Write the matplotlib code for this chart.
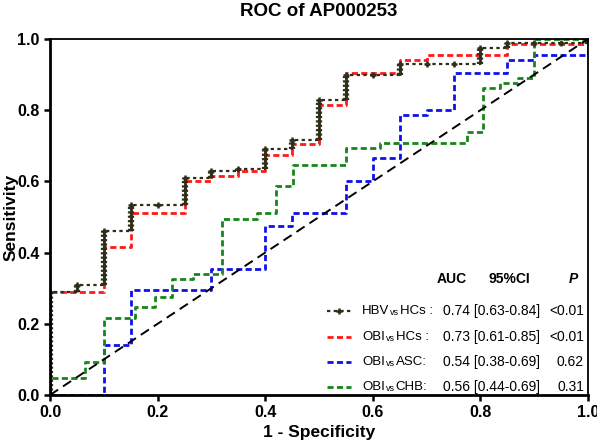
import matplotlib
matplotlib.use("Agg")
import matplotlib.pyplot as plt

plt.rcParams['font.family'] = ['Liberation Sans', 'DejaVu Sans']

# ROC step points: (1 - specificity, sensitivity)
hbv_fpr = [0, 0, 0.05, 0.10, 0.15, 0.20, 0.25, 0.30, 0.35, 0.40, 0.45, 0.50,
           0.55, 0.60, 0.65, 0.70, 0.75, 0.80, 0.85, 0.90, 0.95, 1.0]
hbv_tpr = [0, 0.29, 0.31, 0.46, 0.535, 0.535, 0.61, 0.63, 0.635, 0.69, 0.715, 0.83,
           0.90, 0.90, 0.93, 0.93, 0.93, 0.975, 0.99, 0.99, 0.99, 1.0]

obi_hc_fpr = [0, 0, 0.10, 0.15, 0.25, 0.30, 0.35, 0.40, 0.45, 0.50, 0.55, 0.65,
              0.70, 0.85, 1.0]
obi_hc_tpr = [0, 0.29, 0.415, 0.51, 0.60, 0.615, 0.63, 0.675, 0.705, 0.815, 0.905, 0.94,
              0.955, 0.985, 1.0]

obi_asc_fpr = [0, 0.10, 0.15, 0.30, 0.40, 0.45, 0.55, 0.60, 0.65, 0.70, 0.75, 0.85,
               0.90, 1.0]
obi_asc_tpr = [0, 0.14, 0.295, 0.355, 0.475, 0.51, 0.60, 0.665, 0.787, 0.80, 0.905, 0.94,
               0.955, 1.0]

obi_chb_fpr = [0, 0, 0.065, 0.10, 0.158, 0.195, 0.227, 0.266, 0.32, 0.385, 0.42, 0.452,
               0.55, 0.613, 0.775, 0.805, 0.836, 0.87, 0.90, 1.0]
obi_chb_tpr = [0, 0.047, 0.093, 0.216, 0.247, 0.275, 0.325, 0.34, 0.494, 0.51, 0.587, 0.646,
               0.694, 0.708, 0.738, 0.862, 0.876, 0.89, 1.0, 1.0]

# legend table
grp_a = ["HBV", "OBI", "OBI", "OBI"]
grp_b = ["HCs :", "HCs :", "ASC:", "CHB:"]
auc_ci = ["0.74 [0.63-0.84]", "0.73 [0.61-0.85]", "0.54 [0.38-0.69]", "0.56 [0.44-0.69]"]
p_vals = ["<0.01", "<0.01", "0.62", "0.31"]

dark = '#2e2e1a'
red = '#ff1a1a'
blue = '#1010e8'
green = '#16861a'
dash = (0, (2.2, 1.2))

fig = plt.figure(figsize=(5.97, 4.42), dpi=100)
ax = fig.add_axes([50/597, 1 - 395/442, 538/597, 356/442])

ax.plot(obi_asc_fpr, obi_asc_tpr, drawstyle='steps-post', color=blue, lw=2, ls=dash)
ax.plot(obi_chb_fpr, obi_chb_tpr, drawstyle='steps-post', color=green, lw=2, ls=dash)
ax.plot(obi_hc_fpr, obi_hc_tpr, drawstyle='steps-post', color=red, lw=2, ls=dash)

# HBV curve: dotted steps, '+' at each point, verticals crowded with markers
ax.plot(hbv_fpr, hbv_tpr, drawstyle='steps-post', color=dark, lw=1.6,
        ls=(0, (1.5, 1.5)), marker='+', ms=5, mew=1.8)
vx, vlo, vhi = [], [], []
for i in range(1, len(hbv_fpr)):
    if hbv_tpr[i] > hbv_tpr[i - 1]:
        vx.append(hbv_fpr[i])
        vlo.append(hbv_tpr[i - 1])
        vhi.append(hbv_tpr[i])
ax.vlines(vx, vlo, vhi, color=dark, lw=2)
ax.vlines(vx, vlo, vhi, color=dark, lw=4.5, linestyles=[(0, (0.35, 0.35))])

ax.plot([0, 1], [0, 1], color='black', lw=1.4, ls=(0, (5, 3)))

ax.set_xlim(0, 1)
ax.set_ylim(0, 1)
ax.set_xticks([0, 0.2, 0.4, 0.6, 0.8, 1.0])
ax.set_yticks([0, 0.2, 0.4, 0.6, 0.8, 1.0])
ax.xaxis.set_major_formatter(plt.FormatStrFormatter('%.1f'))
ax.yaxis.set_major_formatter(plt.FormatStrFormatter('%.1f'))
ax.tick_params(direction='out', length=4.5, width=1.8, labelsize=11.5, pad=3)
for lab in ax.get_xticklabels() + ax.get_yticklabels():
    lab.set_fontweight('bold')
ax.spines['left'].set_linewidth(2.0)
ax.spines['bottom'].set_linewidth(2.0)
ax.spines['top'].set_linewidth(1.3)
ax.spines['right'].set_linewidth(1.3)

fig.text(319/597, 1 - 12/442, "ROC of AP000253", ha='center', va='center',
         fontsize=13.5, fontweight='bold')
ax.set_xlabel("1 - Specificity", fontsize=12.5, fontweight='bold')
ax.set_ylabel("Sensitivity", fontsize=12.5, fontweight='bold')
ax.xaxis.set_label_coords(0.5, -(433 - 395) / 356.0)
ax.yaxis.set_label_coords(-(50 - 11) / 538.0, 0.5)
ax.xaxis.label.set_va('center')
ax.yaxis.label.set_va('center')

# legend drawn as a small table
def axx(px):
    return (px - 50) / 538.0

def axy(py):
    return (395 - py) / 356.0

hy = axy(279)
ax.text(axx(452), hy, "AUC", ha='center', va='center', fontsize=10, fontweight='bold')
ax.text(axx(509), hy, "95%CI", ha='center', va='center', fontsize=10, fontweight='bold')
ax.text(axx(573), hy, "P", ha='center', va='center', fontsize=10, fontweight='bold',
        style='italic')

row_py = [311, 337, 362, 387]
styles = [(dark, (0, (1.5, 1.5)), 1.6), (red, dash, 2), (blue, dash, 2), (green, dash, 2)]
for k in range(4):
    y = axy(row_py[k])
    col, ls, lw = styles[k]
    ax.plot([axx(327), axx(351)], [y, y], transform=ax.transAxes, color=col,
            ls=ls, lw=lw, clip_on=False)
    if k == 0:
        ax.plot([axx(339)], [y], transform=ax.transAxes, color=col, marker='+',
                ms=5, mew=1.8, clip_on=False)
    t1 = ax.text(axx(362), y, grp_a[k], ha='left', va='center', fontsize=9.5)
    t2 = ax.annotate("vs", xy=(1, 0), xycoords=t1, xytext=(0.5, 0),
                     textcoords='offset points', ha='left', va='bottom', fontsize=6.5)
    ax.annotate(grp_b[k], xy=(1, 0), xycoords=t2, xytext=(0.8, 0),
                textcoords='offset points', ha='left', va='bottom', fontsize=9.5)
    ax.text(axx(443), y, auc_ci[k], ha='left', va='center', fontsize=10)
    ax.text(axx(584), y, p_vals[k], ha='right', va='center', fontsize=10)

fig.savefig("out.png", dpi=100)
